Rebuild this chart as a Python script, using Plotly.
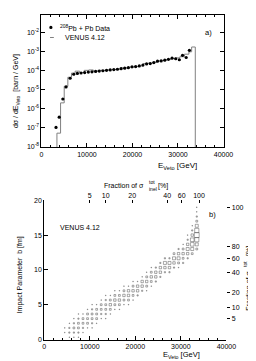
import plotly.graph_objects as go

W, H = 256, 361
FONT = "Liberation Sans, Arial, sans-serif"

# ---------------- panel a data ----------------
data_E = [3200, 3900, 4700, 5400, 6300, 7100, 7900, 8700, 9500, 10300, 11100, 11900,
          12700, 13500, 14300, 15100, 15900, 16700, 17500, 18300, 19100, 19900, 20700,
          21500, 22300, 23100, 23900, 24700, 25500, 26300, 27100, 27900, 28700, 29500,
          30300, 31000, 31800, 32500]
data_val = [1.0e-7, 3.5e-7, 3.2e-6, 1.4e-5, 4.0e-5, 6.5e-5, 7.2e-5, 7.6e-5, 8.0e-5, 8.5e-5,
            8.8e-5, 9.2e-5, 9.6e-5, 1.0e-4, 1.05e-4, 1.1e-4, 1.15e-4, 1.2e-4, 1.28e-4,
            1.36e-4, 1.45e-4, 1.6e-4, 1.65e-4, 1.8e-4, 2.0e-4, 2.3e-4, 2.4e-4, 2.7e-4,
            3.2e-4, 3.3e-4, 3.6e-4, 4.0e-4, 4.6e-4, 4.3e-4, 3.8e-4, 6.5e-4, 5.0e-4, 1.2e-3]

hist_edges = [3400, 4200, 5000, 5800, 6600, 7400, 8400, 9400, 10400, 11400, 12400, 13400,
              14400, 15400, 16400, 17400, 18400, 19400, 20400, 21400, 22400, 23400, 24400,
              25400, 26400, 27400, 28400, 29400, 30400, 31400, 32400, 33000, 33800]
hist_val = [5e-8, 2e-6, 1.5e-5, 4.5e-5, 7.5e-5, 9.5e-5, 8.0e-5, 1.05e-4, 1.1e-4, 9.5e-5,
            1.05e-4, 1.05e-4, 1.1e-4, 1.15e-4, 1.25e-4, 1.4e-4, 1.45e-4, 1.55e-4, 1.65e-4,
            1.8e-4, 2.4e-4, 2.5e-4, 2.8e-4, 3.3e-4, 3.5e-4, 3.9e-4, 4.5e-4, 4.8e-4, 5.5e-4,
            7.5e-4, 1.0e-3, 1.8e-3]

ya_range = [-8.05, -1.05]
ya_tickvals = [1e-8, 1e-7, 1e-6, 1e-5, 1e-4, 1e-3, 1e-2]
ya_ticktext = ["10<sup>-8</sup>", "10<sup>-7</sup>", "10<sup>-6</sup>", "10<sup>-5</sup>",
               "10<sup>-4</sup>", "10<sup>-3</sup>", "10<sup>-2</sup>"]

# ---------------- panel b data ----------------
b_bin = 2.0 / 3.0
col_E = [4500, 5500, 6500, 7500, 8500, 9500, 10500, 11500, 12500, 13500, 14500, 15500,
         16500, 17500, 18500, 19500, 20500, 21500, 22500, 23500, 24500, 25500, 26500,
         27500, 28500, 29500, 30500, 31500, 32500, 33500]
col_first_row = [1, 0, 0, 0, 1, 2, 2, 3, 4, 4, 5, 6, 6, 7, 7, 8, 9, 10, 10, 11, 12, 13,
                 14, 14, 15, 15, 16, 17, 18, 19]
col_counts = [
    [1, 1],
    [1, 2, 2, 1],
    [1, 2, 3, 2, 1],
    [1, 2, 3, 3, 2, 1],
    [1, 2, 3, 3, 1],
    [1, 3, 3, 3, 1],
    [1, 2, 3, 3, 2, 1],
    [1, 3, 3, 3, 1],
    [1, 2, 3, 3, 1],
    [1, 2, 3, 3, 2, 1],
    [1, 3, 4, 3, 1],
    [1, 3, 4, 3, 1],
    [1, 3, 4, 3, 1],
    [1, 3, 4, 3, 1],
    [1, 3, 4, 4, 1],
    [1, 3, 4, 3, 1],
    [2, 4, 4, 1],
    [2, 4, 4, 1],
    [1, 3, 4, 3, 1],
    [1, 3, 4, 3, 1],
    [2, 4, 4, 2],
    [2, 4, 4, 2],
    [2, 4, 5, 2],
    [2, 4, 5, 2],
    [2, 4, 5, 3],
    [1, 3, 5, 4, 2],
    [2, 3, 4, 3, 1],
    [2, 4, 5, 4, 2, 1],
    [3, 5, 6, 6, 4, 2, 1],
    [3, 5, 7, 8, 7, 5, 3, 2, 1, 1],
]

top_frac_E = [10000, 13500, 19300, 27000, 30200, 34000]
top_frac_labels = ["5", "10", "20", "40", "60", "100"]
right_frac_b = [3.0, 4.6, 6.8, 9.6, 11.7, 13.4, 19.0]
right_frac_labels = ["5", "10", "20", "40", "60", "80", "100"]


def px(x):
    return x / W


def py(y):
    return 1 - y / H


fig = go.Figure()

# histogram (VENUS) as step line
floor = 10 ** ya_range[0]
hx = [hist_edges[0]] + hist_edges[:-1] + [hist_edges[-1]]
hy = [floor] + hist_val + [floor]
fig.add_trace(go.Scatter(x=hx, y=hy, mode="lines", line_shape="hv",
                         line=dict(color="#808080", width=1),
                         xaxis="x", yaxis="y", showlegend=False, hoverinfo="skip"))
fig.add_trace(go.Scatter(x=data_E, y=data_val, mode="markers",
                         marker=dict(symbol="circle", size=3.2, color="black"),
                         xaxis="x", yaxis="y", showlegend=False))

# box plot for panel b
bx, by, bs = [], [], []
for e, r0, counts in zip(col_E, col_first_row, col_counts):
    for k, c in enumerate(counts):
        bx.append(e)
        by.append((r0 + k + 0.5) * b_bin)
        bs.append(c * 0.6)
fig.add_trace(go.Scatter(x=bx, y=by, mode="markers",
                         marker=dict(symbol="square-open", size=bs, color="#333333",
                                     line=dict(width=0.6, color="#333333")),
                         xaxis="x2", yaxis="y2", showlegend=False))
# helper traces so overlay axes render
fig.add_trace(go.Scatter(x=[None], y=[None], xaxis="x3", yaxis="y2", showlegend=False))
fig.add_trace(go.Scatter(x=[None], y=[None], xaxis="x2", yaxis="y3", showlegend=False))

tickfont = dict(family=FONT, size=7, color="black")
common = dict(showgrid=False, zeroline=False, color="black", linecolor="black", linewidth=1,
              tickcolor="black", tickwidth=0.8, tickfont=tickfont)

fig.update_layout(
    width=W, height=H, margin=dict(l=0, r=0, t=0, b=0),
    paper_bgcolor="white", plot_bgcolor="white", showlegend=False,
    font=dict(family=FONT, color="black"),
    xaxis=dict(domain=[px(33), px(224)], anchor="y", range=[0, 40000],
               tickmode="linear", tick0=0, dtick=10000, tickformat="d",
               ticks="inside", ticklen=4, showline=True, mirror="ticks",
               minor=dict(dtick=2000, tick0=0, ticks="inside", ticklen=2,
                          tickcolor="black", tickwidth=0.8),
               **common),
    yaxis=dict(domain=[py(138), py(3)], anchor="x", type="log", range=ya_range,
               tickmode="array", tickvals=ya_tickvals, ticktext=ya_ticktext,
               ticks="inside", ticklen=4, showline=True, mirror="ticks", **common),
    xaxis2=dict(domain=[px(36), px(227)], anchor="y2", range=[0, 40000],
                tickmode="linear", tick0=0, dtick=10000, tickformat="d",
                ticks="inside", ticklen=4, showline=True,
                minor=dict(dtick=2000, tick0=0, ticks="inside", ticklen=2,
                           tickcolor="black", tickwidth=0.8),
                **common),
    yaxis2=dict(domain=[py(334), py(192)], anchor="x2", range=[0, 20],
                tickmode="linear", tick0=0, dtick=5, ticks="inside", ticklen=4,
                showline=True, **common),
    xaxis3=dict(overlaying="x2", anchor="y2", side="top", range=[0, 40000],
                tickmode="array", tickvals=top_frac_E, ticktext=top_frac_labels,
                ticks="inside", ticklen=3, showline=False, **common),
    yaxis3=dict(overlaying="y2", anchor="x2", side="right", range=[0, 20],
                tickmode="array", tickvals=right_frac_b, ticktext=right_frac_labels,
                ticks="outside", ticklen=3, showline=False, **common),
)

ann = []


def text(x, y, s, size=7, xa="left", ya="middle", angle=0):
    ann.append(dict(x=px(x), y=py(y), xref="paper", yref="paper", text=s,
                    showarrow=False, xanchor=xa, yanchor=ya, textangle=angle,
                    font=dict(family=FONT, size=size, color="black")))


# panel a texts
text(50, 16, "<sup>208</sup>Pb + Pb Data", 7)
text(56, 26, "VENUS 4.12", 7)
text(203, 21, "a)", 7.5)
text(7, 81, "dσ / dE<sub>Veto</sub>  [barn / GeV]", 7, xa="center", angle=-90)
text(176, 157, "E<sub>Veto</sub> [GeV]", 8, xa="center")

# between panels: top axis title
text(143, 177, "Fraction of σ", 7, xa="right")
text(143.5, 173, "tot", 5)
text(143.5, 180.5, "inel", 5)
text(153, 177, "[%]", 7)

# panel b texts
text(50, 220, "VENUS 4.12", 7)
text(207, 207, "b)", 7.5)
text(10, 268, "Impact Parameter  b [fm]", 7, xa="center", angle=-90)
text(180, 350, "E<sub>Veto</sub> [GeV]", 7.5, xa="center")
# right axis title (rotated)
text(250.5, 262, "Fraction of σ", 7, xa="center", ya="top", angle=-90)
text(246.5, 262, "tot", 5, xa="center", ya="bottom", angle=-90)
text(254, 262, "inel", 5, xa="center", ya="bottom", angle=-90)
text(250.5, 251, "[%]", 7, xa="center", ya="bottom", angle=-90)

fig.update_layout(annotations=ann)

# legend symbols for panel a
fig.add_shape(type="circle", xref="paper", yref="paper",
              x0=px(41.2), x1=px(44.6), y0=py(17.4), y1=py(14.0),
              fillcolor="black", line=dict(color="black", width=0))
fig.add_shape(type="line", xref="paper", yref="paper",
              x0=px(42), x1=px(46), y0=py(26), y1=py(26),
              line=dict(color="#808080", width=1))

fig.write_html("out.html")
